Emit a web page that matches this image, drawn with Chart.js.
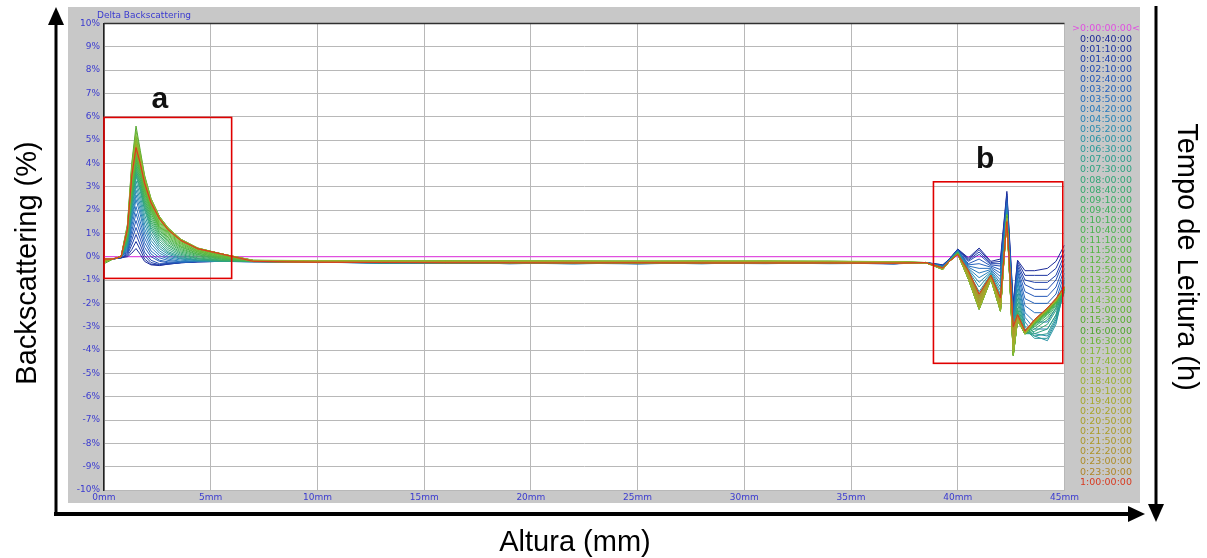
<!DOCTYPE html>
<html>
<head>
<meta charset="utf-8">
<title>Delta Backscattering</title>
<script src="https://cdn.jsdelivr.net/npm/chart.js@4.4.1/dist/chart.umd.min.js"></script>
<style>
  html, body { margin: 0; padding: 0; background: #ffffff; }
  #wrap { width: 1207px; height: 558px; }
</style>
</head>
<body>
<div id="wrap"><canvas id="bs-chart" width="1207" height="558"></canvas></div>
<script>
// altura (mm) dos pontos lidos em cada curva
var heightsMm = [0, 0.4, 0.8, 1.1, 1.3, 1.5, 1.7, 1.9, 2.2, 2.6, 3.0, 3.6, 4.4, 5.5,
    7, 10, 13, 16, 19, 22, 25, 28, 31, 34, 37,
    38.5, 39.3, 39.6, 40.0, 40.5, 41.0, 41.55, 42.0, 42.3, 42.6, 42.8, 43.15, 43.6, 44.2, 44.6, 45];

// tempos de leitura (legenda da direita); o primeiro e a referencia
var readTimes = ['>0:00:00:00<', '0:00:40:00', '0:01:10:00', '0:01:40:00', '0:02:10:00', '0:02:40:00',
    '0:03:20:00', '0:03:50:00', '0:04:20:00', '0:04:50:00', '0:05:20:00', '0:06:00:00', '0:06:30:00',
    '0:07:00:00', '0:07:30:00', '0:08:00:00', '0:08:40:00', '0:09:10:00', '0:09:40:00', '0:10:10:00',
    '0:10:40:00', '0:11:10:00', '0:11:50:00', '0:12:20:00', '0:12:50:00', '0:13:20:00', '0:13:50:00',
    '0:14:30:00', '0:15:00:00', '0:15:30:00', '0:16:00:00', '0:16:30:00', '0:17:10:00', '0:17:40:00',
    '0:18:10:00', '0:18:40:00', '0:19:10:00', '0:19:40:00', '0:20:20:00', '0:20:50:00', '0:21:20:00',
    '0:21:50:00', '0:22:20:00', '0:23:00:00', '0:23:30:00', '1:00:00:00'];

var xTicksMm = [0, 5, 10, 15, 20, 25, 30, 35, 40, 45];
var yTicksPct = [-10, -9, -8, -7, -6, -5, -4, -3, -2, -1, 0, 1, 2, 3, 4, 5, 6, 7, 8, 9, 10];

// curva de referencia (0:00:00:00)
var refCurve = [0, 0, 0, 0, 0, 0, 0, 0, 0, 0, 0, 0, 0, 0, 0, 0, 0, 0, 0, 0, 0, 0, 0, 0, 0,
    0, 0, 0, 0, 0, 0, 0, 0, 0, 0, 0, 0, 0, 0, 0, 0];

// delta BS (%) zona a: 0 .. 5.5 mm
var bandA = [
    [-0.1,-0.1,-0.05,0.0,0.15,0.35,0.1,-0.2,-0.35,-0.38,-0.32,-0.26,-0.22,-0.2],
    [-0.1,-0.1,-0.05,0.05,0.3,0.65,0.3,-0.1,-0.32,-0.36,-0.32,-0.26,-0.22,-0.2],
    [-0.1,-0.1,-0.05,0.1,0.5,0.95,0.5,0.05,-0.25,-0.34,-0.3,-0.25,-0.22,-0.2],
    [-0.1,-0.1,-0.05,0.15,0.7,1.25,0.75,0.2,-0.15,-0.3,-0.3,-0.25,-0.2,-0.2],
    [-0.1,-0.1,0,0.2,0.9,1.55,1.0,0.4,0.0,-0.2,-0.26,-0.25,-0.2,-0.2],
    [-0.1,-0.1,0,0.25,1.1,1.85,1.25,0.6,0.12,-0.15,-0.22,-0.24,-0.2,-0.2],
    [-0.1,-0.1,0,0.3,1.3,2.15,1.5,0.8,0.25,-0.05,-0.16,-0.22,-0.2,-0.2],
    [-0.1,-0.1,0,0.35,1.5,2.45,1.8,1.0,0.4,0.05,-0.1,-0.2,-0.2,-0.2],
    [-0.1,-0.1,0,0.4,1.65,2.65,2.0,1.2,0.55,0.15,-0.04,-0.15,-0.2,-0.2],
    [-0.1,-0.1,0,0.45,1.8,2.85,2.2,1.4,0.7,0.25,0.02,-0.1,-0.18,-0.2],
    [-0.1,-0.1,0,0.5,1.95,3.05,2.4,1.6,0.85,0.35,0.1,-0.08,-0.16,-0.2],
    [-0.1,-0.1,0,0.55,2.05,3.25,2.6,1.8,1.0,0.45,0.16,-0.04,-0.15,-0.2],
    [-0.1,-0.1,0,0.6,2.2,3.45,2.8,2.0,1.15,0.55,0.22,0.0,-0.14,-0.2],
    [-0.1,-0.1,0,0.65,2.3,3.55,2.9,2.1,1.25,0.65,0.3,0.05,-0.1,-0.18],
    [-0.1,-0.1,0,0.7,2.4,3.65,3.0,2.2,1.35,0.75,0.38,0.1,-0.08,-0.18],
    [-0.1,-0.1,0,0.75,2.5,3.75,3.1,2.3,1.45,0.85,0.46,0.15,-0.05,-0.16],
    [-0.1,-0.1,0,0.8,2.6,3.85,3.2,2.4,1.55,0.92,0.52,0.2,0.0,-0.15],
    [-0.1,-0.1,0,0.85,2.7,3.95,3.3,2.5,1.65,1.0,0.6,0.25,0.04,-0.12],
    [-0.1,-0.1,0,0.9,2.8,4.05,3.4,2.6,1.75,1.06,0.66,0.3,0.08,-0.1],
    [-0.1,-0.1,0,0.9,2.9,4.15,3.5,2.7,1.85,1.14,0.72,0.35,0.1,-0.08],
    [-0.1,-0.1,0,0.95,2.95,4.2,3.6,2.8,1.92,1.2,0.78,0.4,0.14,-0.06],
    [-0.1,-0.1,0,1.0,3.0,4.25,3.65,2.85,2.0,1.25,0.84,0.43,0.16,-0.04],
    [-0.1,-0.1,0,1.0,3.05,4.3,3.7,2.9,2.05,1.3,0.9,0.47,0.2,-0.02],
    [-0.1,-0.1,0,1.05,3.1,4.35,3.75,2.95,2.1,1.36,0.95,0.52,0.22,0.0],
    [-0.1,-0.1,0,1.05,3.15,4.4,3.8,3.0,2.15,1.42,1.0,0.56,0.25,0.03],
    [-0.1,-0.1,0,1.1,3.2,4.45,3.85,3.05,2.2,1.48,1.05,0.6,0.27,0.05],
    [-0.1,-0.1,0,1.1,3.25,4.5,3.9,3.1,2.25,1.54,1.1,0.64,0.3,0.07],
    [-0.12,-0.1,0,1.15,3.3,4.7,4.0,3.18,2.32,1.62,1.16,0.69,0.33,0.09],
    [-0.18,-0.1,0,1.25,3.6,5.1,4.25,3.35,2.42,1.68,1.2,0.72,0.35,0.1],
    [-0.3,-0.12,0,1.4,4.0,5.6,4.55,3.5,2.5,1.72,1.24,0.75,0.37,0.12],
    [-0.25,-0.1,0,1.35,3.9,5.4,4.45,3.45,2.5,1.72,1.24,0.75,0.37,0.12],
    [-0.22,-0.1,0,1.3,3.8,5.2,4.35,3.4,2.47,1.7,1.22,0.74,0.36,0.12],
    [-0.2,-0.1,0,1.3,3.7,5.0,4.25,3.35,2.45,1.7,1.22,0.74,0.36,0.12],
    [-0.2,-0.1,0,1.25,3.65,4.9,4.15,3.3,2.42,1.68,1.2,0.73,0.36,0.12],
    [-0.18,-0.1,0,1.25,3.58,4.82,4.1,3.26,2.4,1.66,1.19,0.72,0.35,0.12],
    [-0.15,-0.1,0,1.25,3.55,4.8,4.1,3.25,2.38,1.66,1.19,0.72,0.35,0.12],
    [-0.15,-0.1,0,1.2,3.5,4.75,4.05,3.22,2.36,1.65,1.18,0.72,0.35,0.12],
    [-0.15,-0.1,0,1.2,3.48,4.7,4.02,3.2,2.34,1.64,1.17,0.71,0.35,0.12],
    [-0.12,-0.1,0,1.2,3.46,4.7,4.0,3.18,2.33,1.63,1.16,0.7,0.34,0.12],
    [-0.12,-0.1,0,1.18,3.44,4.66,3.98,3.16,2.32,1.62,1.16,0.7,0.34,0.12],
    [-0.1,-0.1,0,1.16,3.42,4.64,3.96,3.14,2.3,1.61,1.15,0.69,0.34,0.12],
    [-0.1,-0.1,0,1.15,3.4,4.62,3.95,3.12,2.28,1.6,1.14,0.69,0.33,0.11],
    [-0.1,-0.1,0,1.14,3.38,4.6,3.94,3.1,2.27,1.6,1.14,0.68,0.33,0.11],
    [-0.1,-0.1,0,1.15,3.4,4.64,3.96,3.13,2.29,1.61,1.15,0.69,0.34,0.12],
    [-0.1,-0.1,0,1.18,3.45,4.68,4.0,3.16,2.32,1.63,1.16,0.7,0.34,0.12]
];

// zona central: 7 .. 37 mm
var bandMid = [
    [-0.2,-0.22,-0.26,-0.24,-0.28,-0.25,-0.3,-0.26,-0.24,-0.28,-0.3],
    [-0.21,-0.24,-0.25,-0.27,-0.26,-0.29,-0.27,-0.25,-0.27,-0.26,-0.29],
    [-0.19,-0.23,-0.27,-0.25,-0.3,-0.26,-0.28,-0.29,-0.25,-0.27,-0.31],
    [-0.2,-0.21,-0.24,-0.28,-0.26,-0.24,-0.29,-0.27,-0.28,-0.25,-0.3],
    [-0.22,-0.24,-0.26,-0.25,-0.27,-0.3,-0.26,-0.24,-0.29,-0.27,-0.28],
    [-0.2,-0.25,-0.23,-0.27,-0.29,-0.25,-0.27,-0.3,-0.26,-0.28,-0.29],
    [-0.21,-0.22,-0.27,-0.24,-0.25,-0.28,-0.31,-0.26,-0.27,-0.29,-0.27],
    [-0.2,-0.24,-0.25,-0.29,-0.27,-0.26,-0.25,-0.28,-0.3,-0.26,-0.3],
    [-0.22,-0.23,-0.28,-0.25,-0.3,-0.27,-0.28,-0.25,-0.27,-0.3,-0.28],
    [-0.2,-0.25,-0.24,-0.26,-0.27,-0.31,-0.26,-0.29,-0.26,-0.27,-0.29],
    [-0.21,-0.22,-0.26,-0.28,-0.25,-0.27,-0.3,-0.27,-0.28,-0.25,-0.3],
    [-0.2,-0.24,-0.27,-0.25,-0.29,-0.26,-0.27,-0.3,-0.25,-0.28,-0.28],
    [-0.19,-0.23,-0.25,-0.27,-0.26,-0.29,-0.25,-0.27,-0.29,-0.26,-0.29],
    [-0.2,-0.22,-0.24,-0.26,-0.28,-0.25,-0.29,-0.26,-0.27,-0.28,-0.27],
    [-0.2,-0.23,-0.26,-0.24,-0.27,-0.28,-0.26,-0.28,-0.26,-0.27,-0.28],
    [-0.19,-0.22,-0.25,-0.26,-0.25,-0.27,-0.28,-0.25,-0.28,-0.26,-0.28],
    [-0.2,-0.21,-0.24,-0.25,-0.27,-0.25,-0.27,-0.27,-0.25,-0.27,-0.27],
    [-0.19,-0.22,-0.23,-0.26,-0.25,-0.27,-0.25,-0.26,-0.27,-0.25,-0.27],
    [-0.18,-0.2,-0.22,-0.24,-0.23,-0.25,-0.26,-0.24,-0.25,-0.26,-0.27],
    [-0.19,-0.21,-0.23,-0.22,-0.25,-0.23,-0.24,-0.26,-0.24,-0.25,-0.26],
    [-0.18,-0.2,-0.21,-0.23,-0.22,-0.24,-0.23,-0.25,-0.23,-0.24,-0.26],
    [-0.18,-0.19,-0.22,-0.21,-0.23,-0.22,-0.24,-0.22,-0.24,-0.23,-0.25],
    [-0.17,-0.2,-0.2,-0.22,-0.21,-0.23,-0.22,-0.23,-0.22,-0.24,-0.25],
    [-0.18,-0.19,-0.21,-0.2,-0.22,-0.21,-0.23,-0.21,-0.23,-0.22,-0.24],
    [-0.17,-0.18,-0.2,-0.21,-0.2,-0.22,-0.21,-0.22,-0.21,-0.23,-0.24],
    [-0.17,-0.19,-0.19,-0.2,-0.21,-0.2,-0.22,-0.2,-0.22,-0.21,-0.23],
    [-0.16,-0.18,-0.2,-0.19,-0.2,-0.21,-0.2,-0.21,-0.2,-0.22,-0.23],
    [-0.17,-0.18,-0.19,-0.2,-0.19,-0.2,-0.21,-0.19,-0.21,-0.2,-0.22],
    [-0.16,-0.17,-0.18,-0.19,-0.2,-0.19,-0.2,-0.2,-0.19,-0.21,-0.22],
    [-0.16,-0.18,-0.19,-0.18,-0.19,-0.2,-0.19,-0.2,-0.2,-0.2,-0.22],
    [-0.15,-0.17,-0.18,-0.19,-0.18,-0.19,-0.2,-0.18,-0.2,-0.19,-0.21],
    [-0.16,-0.17,-0.17,-0.18,-0.19,-0.18,-0.19,-0.19,-0.18,-0.2,-0.21],
    [-0.16,-0.18,-0.18,-0.19,-0.18,-0.2,-0.19,-0.2,-0.19,-0.2,-0.22],
    [-0.17,-0.18,-0.19,-0.2,-0.19,-0.2,-0.21,-0.2,-0.2,-0.21,-0.22],
    [-0.17,-0.19,-0.2,-0.2,-0.21,-0.2,-0.21,-0.22,-0.2,-0.22,-0.23],
    [-0.18,-0.2,-0.21,-0.22,-0.21,-0.23,-0.22,-0.23,-0.22,-0.23,-0.24],
    [-0.18,-0.21,-0.22,-0.23,-0.22,-0.24,-0.23,-0.22,-0.24,-0.23,-0.25],
    [-0.19,-0.21,-0.23,-0.22,-0.24,-0.23,-0.25,-0.23,-0.24,-0.25,-0.25],
    [-0.19,-0.22,-0.22,-0.24,-0.23,-0.25,-0.24,-0.25,-0.23,-0.25,-0.26],
    [-0.2,-0.22,-0.24,-0.23,-0.25,-0.24,-0.26,-0.24,-0.25,-0.24,-0.26],
    [-0.2,-0.23,-0.23,-0.25,-0.24,-0.26,-0.25,-0.25,-0.26,-0.25,-0.27],
    [-0.21,-0.23,-0.25,-0.24,-0.26,-0.25,-0.26,-0.27,-0.25,-0.26,-0.27],
    [-0.2,-0.24,-0.24,-0.26,-0.25,-0.27,-0.25,-0.26,-0.27,-0.26,-0.28],
    [-0.21,-0.23,-0.25,-0.25,-0.27,-0.25,-0.27,-0.26,-0.26,-0.27,-0.28],
    [-0.2,-0.24,-0.25,-0.26,-0.26,-0.27,-0.26,-0.27,-0.27,-0.27,-0.28]
];

// zona b: 38.5 .. 45 mm
var bandB = [
    [-0.25,-0.35,-0.1,0.33,-0.05,0.37,-0.2,-0.1,2.8,-2.0,-0.15,-0.6,-0.6,-0.5,-0.2,0.5],
    [-0.25,-0.35,-0.1,0.32,-0.1,0.3,-0.25,-0.2,2.7,-2.1,-0.2,-0.8,-0.8,-0.8,-0.5,0.3],
    [-0.25,-0.38,-0.12,0.3,-0.15,0.2,-0.3,-0.3,2.6,-2.2,-0.3,-1.0,-1.1,-1.1,-0.8,0.1],
    [-0.25,-0.38,-0.12,0.3,-0.2,0.1,-0.35,-0.4,2.5,-2.3,-0.4,-1.2,-1.4,-1.4,-1.0,-0.1],
    [-0.25,-0.4,-0.14,0.28,-0.3,-0.1,-0.4,-0.55,2.4,-2.4,-0.5,-1.5,-1.7,-1.7,-1.3,-0.3],
    [-0.25,-0.4,-0.14,0.28,-0.35,-0.3,-0.45,-0.7,2.3,-2.5,-0.6,-1.8,-2.0,-2.0,-1.6,-0.5],
    [-0.25,-0.42,-0.15,0.27,-0.4,-0.5,-0.5,-0.85,2.2,-2.6,-0.7,-2.1,-2.4,-2.4,-1.9,-0.7],
    [-0.25,-0.42,-0.15,0.26,-0.45,-0.7,-0.55,-1.0,2.1,-2.7,-0.9,-2.4,-2.8,-2.8,-2.2,-0.9],
    [-0.25,-0.44,-0.16,0.25,-0.5,-0.9,-0.6,-1.15,2.0,-2.8,-1.0,-2.6,-3.1,-3.1,-2.5,-1.0],
    [-0.25,-0.44,-0.16,0.24,-0.55,-1.1,-0.65,-1.3,1.95,-2.9,-1.2,-2.8,-3.3,-3.4,-2.7,-1.1],
    [-0.25,-0.45,-0.17,0.23,-0.6,-1.3,-0.7,-1.45,1.9,-3.0,-1.4,-3.0,-3.4,-3.6,-2.9,-1.3],
    [-0.25,-0.45,-0.17,0.22,-0.65,-1.5,-0.75,-1.6,1.85,-3.1,-1.6,-3.1,-3.5,-3.5,-2.8,-1.4],
    [-0.25,-0.46,-0.18,0.21,-0.7,-1.6,-0.8,-1.7,1.8,-3.3,-1.8,-3.2,-3.4,-3.3,-2.6,-1.5],
    [-0.25,-0.46,-0.18,0.2,-0.75,-1.7,-0.8,-1.8,1.75,-3.5,-2.0,-3.3,-3.3,-3.1,-2.5,-1.5],
    [-0.25,-0.47,-0.19,0.2,-0.8,-1.8,-0.85,-1.9,1.7,-3.6,-2.2,-3.3,-3.2,-2.9,-2.3,-1.45],
    [-0.25,-0.47,-0.19,0.19,-0.82,-1.9,-0.85,-2.0,1.7,-3.7,-2.3,-3.3,-3.1,-2.7,-2.2,-1.4],
    [-0.25,-0.48,-0.2,0.18,-0.84,-2.0,-0.88,-2.05,1.7,-3.8,-2.4,-3.3,-3.0,-2.6,-2.1,-1.4],
    [-0.25,-0.48,-0.2,0.17,-0.86,-2.05,-0.88,-2.1,1.7,-3.9,-2.5,-3.3,-2.95,-2.5,-2.05,-1.4],
    [-0.25,-0.5,-0.2,0.16,-0.88,-2.1,-0.9,-2.15,1.7,-3.95,-2.55,-3.3,-2.9,-2.45,-2.0,-1.4],
    [-0.26,-0.5,-0.21,0.15,-0.9,-2.12,-0.9,-2.2,1.72,-4.0,-2.6,-3.32,-2.88,-2.4,-1.98,-1.42],
    [-0.25,-0.52,-0.2,0.15,-0.92,-2.15,-0.92,-2.22,1.74,-4.05,-2.62,-3.3,-2.86,-2.38,-1.96,-1.4],
    [-0.26,-0.51,-0.21,0.14,-0.92,-2.18,-0.92,-2.25,1.76,-4.1,-2.65,-3.32,-2.85,-2.36,-1.95,-1.38],
    [-0.25,-0.52,-0.2,0.15,-0.94,-2.2,-0.93,-2.27,1.78,-4.12,-2.66,-3.3,-2.84,-2.35,-1.94,-1.38],
    [-0.26,-0.52,-0.21,0.14,-0.94,-2.2,-0.94,-2.28,1.8,-4.15,-2.68,-3.31,-2.83,-2.34,-1.93,-1.37],
    [-0.25,-0.53,-0.2,0.14,-0.95,-2.22,-0.94,-2.3,1.8,-4.18,-2.7,-3.3,-2.82,-2.33,-1.92,-1.37],
    [-0.26,-0.53,-0.21,0.13,-0.95,-2.22,-0.95,-2.3,1.78,-4.2,-2.7,-3.32,-2.82,-2.32,-1.92,-1.36],
    [-0.25,-0.54,-0.2,0.13,-0.96,-2.24,-0.95,-2.32,1.76,-4.2,-2.72,-3.3,-2.81,-2.32,-1.91,-1.36],
    [-0.26,-0.54,-0.21,0.12,-0.96,-2.24,-0.96,-2.32,1.74,-4.22,-2.72,-3.31,-2.8,-2.31,-1.9,-1.35],
    [-0.25,-0.54,-0.2,0.12,-0.96,-2.25,-0.96,-2.33,1.72,-4.22,-2.73,-3.3,-2.8,-2.3,-1.9,-1.35],
    [-0.26,-0.55,-0.21,0.12,-0.97,-2.26,-0.97,-2.34,1.7,-4.25,-2.74,-3.32,-2.8,-2.3,-1.9,-1.34],
    [-0.25,-0.55,-0.2,0.11,-0.97,-2.26,-0.97,-2.34,1.68,-4.25,-2.74,-3.3,-2.79,-2.29,-1.89,-1.34],
    [-0.26,-0.55,-0.21,0.11,-0.96,-2.25,-0.96,-2.33,1.66,-4.22,-2.73,-3.31,-2.79,-2.29,-1.89,-1.33],
    [-0.25,-0.54,-0.2,0.11,-0.95,-2.24,-0.95,-2.32,1.64,-4.18,-2.72,-3.3,-2.79,-2.28,-1.88,-1.33],
    [-0.26,-0.54,-0.21,0.1,-0.94,-2.22,-0.94,-2.3,1.62,-4.1,-2.7,-3.3,-2.78,-2.28,-1.88,-1.32],
    [-0.25,-0.53,-0.2,0.1,-0.92,-2.2,-0.93,-2.27,1.6,-4.0,-2.68,-3.29,-2.78,-2.27,-1.87,-1.32],
    [-0.26,-0.52,-0.21,0.1,-0.88,-2.15,-0.9,-2.2,1.58,-3.8,-2.64,-3.27,-2.77,-2.27,-1.87,-1.32],
    [-0.25,-0.51,-0.2,0.1,-0.84,-2.1,-0.88,-2.12,1.56,-3.65,-2.6,-3.25,-2.76,-2.26,-1.86,-1.31],
    [-0.26,-0.5,-0.21,0.1,-0.8,-2.0,-0.86,-2.05,1.55,-3.5,-2.58,-3.24,-2.75,-2.25,-1.85,-1.31],
    [-0.25,-0.5,-0.2,0.1,-0.76,-1.92,-0.85,-1.98,1.54,-3.4,-2.56,-3.23,-2.74,-2.24,-1.84,-1.3],
    [-0.26,-0.49,-0.21,0.1,-0.72,-1.85,-0.84,-1.92,1.53,-3.3,-2.54,-3.22,-2.73,-2.23,-1.83,-1.3],
    [-0.25,-0.49,-0.2,0.1,-0.68,-1.78,-0.82,-1.86,1.52,-3.2,-2.52,-3.21,-2.72,-2.22,-1.82,-1.3],
    [-0.26,-0.48,-0.21,0.1,-0.64,-1.72,-0.81,-1.82,1.51,-3.12,-2.5,-3.2,-2.71,-2.21,-1.81,-1.29],
    [-0.25,-0.48,-0.2,0.1,-0.62,-1.66,-0.8,-1.79,1.5,-3.05,-2.5,-3.2,-2.7,-2.2,-1.8,-1.29],
    [-0.26,-0.48,-0.21,0.1,-0.6,-1.62,-0.8,-1.77,1.5,-3.0,-2.48,-3.19,-2.7,-2.2,-1.8,-1.28],
    [-0.25,-0.48,-0.2,0.1,-0.6,-1.6,-0.79,-1.77,1.5,-3.0,-2.48,-3.18,-2.69,-2.19,-1.79,-1.28]
];

// cores das curvas (mesma ordem de readTimes)
var seriesColors = ['#e050e0',
    '#1c2a98', '#1e35a2', '#2040aa', '#224cb2', '#2458b8', '#2563bc', '#266ebe', '#2778bc', '#2882b8', '#298bb0',
    '#2a93a6', '#2b999a', '#2d9e8e', '#30a282', '#33a677', '#37a96d',
    '#3bac64', '#40ae5c', '#45b055', '#4ab24f', '#4fb44a', '#54b545', '#59b641', '#5eb73d', '#63b83a',
    '#68b937', '#6cba35', '#5fb232', '#58ac30', '#52a62e', '#6cb534',
    '#84b834', '#8cb632', '#94b430', '#9cb02e', '#a2ac2c', '#a6a82a',
    '#a9a42a', '#aaa02a', '#ab9c2a', '#ac982a', '#ad932a', '#ae8d2a', '#b0862a',
    '#d83a20'];

(function () {
    var W = 1207, H = 558;

    function pts(row) {
        var out = [];
        for (var k = 0; k < heightsMm.length; k++) {
            out.push({ x: heightsMm[k], y: row[k] });
        }
        return out;
    }

    var datasets = [{
        label: readTimes[0],
        data: pts(refCurve),
        borderColor: seriesColors[0],
        borderWidth: 1.2,
        order: 100
    }];
    for (var i = 0; i < bandA.length; i++) {
        datasets.push({
            label: readTimes[i + 1],
            data: pts(bandA[i].concat(bandMid[i], bandB[i])),
            borderColor: seriesColors[i + 1],
            borderWidth: 1,
            order: 60 - i
        });
    }

    var deco = {
        id: 'deco',
        beforeDraw: function (chart) {
            var ctx = chart.ctx, a = chart.chartArea;
            ctx.save();
            ctx.fillStyle = '#ffffff';
            ctx.fillRect(0, 0, W, H);
            ctx.fillStyle = '#c8c8c8';
            ctx.fillRect(68, 7, 1072, 496);
            ctx.fillStyle = '#ffffff';
            ctx.fillRect(a.left, a.top, a.right - a.left, a.bottom - a.top);
            ctx.restore();
        },
        afterDraw: function (chart) {
            var ctx = chart.ctx, a = chart.chartArea;
            var xs = chart.scales.x, ys = chart.scales.y;
            ctx.save();
            // moldura superior
            ctx.strokeStyle = '#303030';
            ctx.lineWidth = 1.5;
            ctx.beginPath();
            ctx.moveTo(a.left, a.top);
            ctx.lineTo(a.right, a.top);
            ctx.stroke();

            // titulo do grafico
            ctx.fillStyle = '#3a3ad0';
            ctx.font = '9px "DejaVu Sans"';
            ctx.textAlign = 'left';
            ctx.textBaseline = 'middle';
            ctx.fillText('Delta Backscattering', 97, 16);

            // legenda dos tempos
            ctx.font = '9.5px "DejaVu Sans"';
            ctx.textAlign = 'center';
            for (var k = 0; k < readTimes.length; k++) {
                ctx.fillStyle = seriesColors[k];
                ctx.fillText(readTimes[k], 1106, 29 + k * 10.07);
            }

            // caixas a e b
            ctx.strokeStyle = '#e00000';
            ctx.lineWidth = 1.6;
            function box(x0, x1, y0, y1) {
                var l = xs.getPixelForValue(x0), r = xs.getPixelForValue(x1);
                var t = ys.getPixelForValue(y0), b = ys.getPixelForValue(y1);
                ctx.strokeRect(l, t, r - l, b - t);
            }
            box(0, 5.98, 5.97, -0.93);
            box(38.86, 44.92, 3.21, -4.57);
            ctx.fillStyle = '#111111';
            ctx.font = 'bold 30px "Liberation Sans"';
            ctx.textAlign = 'center';
            ctx.fillText('a', xs.getPixelForValue(2.62), ys.getPixelForValue(6.72));
            ctx.fillText('b', xs.getPixelForValue(41.28), ys.getPixelForValue(4.14));

            // setas
            ctx.fillStyle = '#000000';
            ctx.strokeStyle = '#000000';
            ctx.lineWidth = 3;
            ctx.beginPath();
            ctx.moveTo(56, 516); ctx.lineTo(56, 22);
            ctx.stroke();
            ctx.beginPath();
            ctx.moveTo(56, 7); ctx.lineTo(48, 25); ctx.lineTo(64, 25); ctx.closePath();
            ctx.fill();
            ctx.lineWidth = 4;
            ctx.beginPath();
            ctx.moveTo(54, 514); ctx.lineTo(1130, 514);
            ctx.stroke();
            ctx.beginPath();
            ctx.moveTo(1145, 514); ctx.lineTo(1128, 506); ctx.lineTo(1128, 522); ctx.closePath();
            ctx.fill();
            ctx.lineWidth = 3;
            ctx.beginPath();
            ctx.moveTo(1156, 6); ctx.lineTo(1156, 506);
            ctx.stroke();
            ctx.beginPath();
            ctx.moveTo(1156, 522); ctx.lineTo(1148, 504); ctx.lineTo(1164, 504); ctx.closePath();
            ctx.fill();

            // titulos dos eixos
            ctx.fillStyle = '#000000';
            ctx.font = '29px "Liberation Sans"';
            ctx.textAlign = 'center';
            ctx.textBaseline = 'middle';
            ctx.fillText('Altura (mm)', 575, 543);
            ctx.save();
            ctx.translate(28, 263);
            ctx.rotate(-Math.PI / 2);
            ctx.fillText('Backscattering (%)', 0, 0);
            ctx.restore();
            ctx.save();
            ctx.translate(1186, 257);
            ctx.rotate(Math.PI / 2);
            ctx.fillText('Tempo de Leitura (h)', 0, 0);
            ctx.restore();
            ctx.restore();
        }
    };

    new Chart(document.getElementById('bs-chart').getContext('2d'), {
        type: 'line',
        data: { datasets: datasets },
        options: {
            responsive: false,
            animation: false,
            events: [],
            layout: { padding: { left: 68, right: 142.5, top: 23.4, bottom: 48 } },
            elements: {
                point: { radius: 0 },
                line: { tension: 0, fill: false }
            },
            plugins: {
                legend: { display: false },
                tooltip: { enabled: false }
            },
            scales: {
                x: {
                    type: 'linear',
                    min: xTicksMm[0],
                    max: xTicksMm[xTicksMm.length - 1],
                    afterFit: function (s) { s.height = 20; },
                    afterBuildTicks: function (s) {
                        s.ticks = xTicksMm.map(function (v) { return { value: v }; });
                    },
                    grid: { color: '#b8b8b8', lineWidth: 1, drawTicks: false },
                    border: { display: true, color: '#b8b8b8', width: 1 },
                    ticks: {
                        padding: 2,
                        maxRotation: 0,
                        autoSkip: false,
                        color: '#3a3ad0',
                        font: { size: 9, family: '"DejaVu Sans"' },
                        callback: function (v) { return v + 'mm'; }
                    }
                },
                y: {
                    min: yTicksPct[0],
                    max: yTicksPct[yTicksPct.length - 1],
                    afterFit: function (s) { s.width = 36; },
                    afterBuildTicks: function (s) {
                        s.ticks = yTicksPct.map(function (v) { return { value: v }; });
                    },
                    grid: { color: '#b8b8b8', lineWidth: 1, drawTicks: false },
                    border: { display: true, color: '#202020', width: 1.5 },
                    ticks: {
                        padding: 4,
                        autoSkip: false,
                        color: '#3a3ad0',
                        font: { size: 9, family: '"DejaVu Sans"' },
                        callback: function (v) { return v + '%'; }
                    }
                }
            }
        },
        plugins: [deco]
    });
})();
</script>
</body>
</html>
